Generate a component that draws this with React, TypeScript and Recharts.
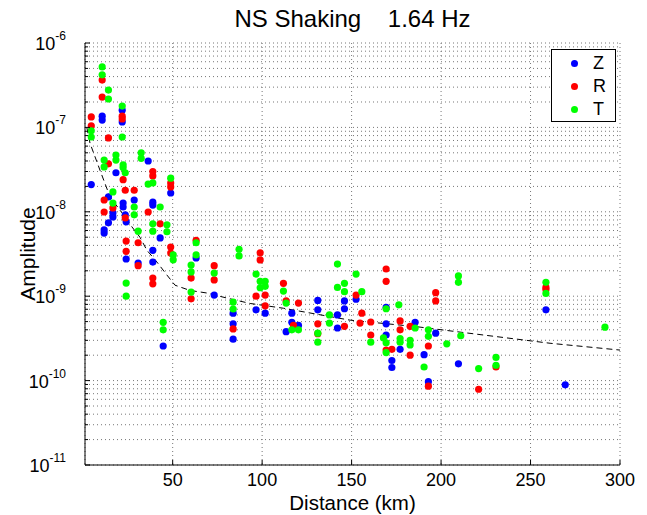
import React from "react";
import { ScatterChart, Scatter, XAxis, YAxis, CartesianGrid, Legend } from "recharts";

const FONT = "'Liberation Sans', Arial, Helvetica, sans-serif";

// distance (km), amplitude
const zPoints: [number, number][] = [
  [4.5, 2.1e-8], [10.6, 1.36e-7], [10.6, 1.22e-7], [11.7, 6.1e-9], [11.7, 5.6e-9],
  [14.1, 1.5e-8], [14.1, 7.4e-9], [16.6, 9.7e-9], [16.6, 8.7e-9], [18.3, 2.9e-8],
  [21.8, 1.6e-7], [21.8, 1.16e-7], [22.3, 1.27e-8], [22.3, 1.14e-8], [23.5, 9.2e-9],
  [24, 7.6e-9], [24, 2.76e-9], [28.5, 1.38e-8], [30.7, 2.47e-9], [36.3, 4.0e-8],
  [38.9, 1.3e-8], [38.9, 1.2e-8], [38.9, 3.5e-9], [38.9, 2.54e-9], [43, 4.9e-9],
  [44.7, 2.57e-10], [48.9, 1.67e-8], [63.1, 2.84e-9], [73.2, 1.03e-9],
  [83.8, 6.3e-10], [83.8, 4.7e-10], [83.8, 3.1e-10], [96.6, 6.9e-10], [101.7, 6.3e-10],
  [113.4, 3.8e-10], [116.6, 6.3e-10], [116.6, 4.9e-10], [120.3, 4.5e-10],
  [131.1, 8.9e-10], [131.1, 6.9e-10], [142.1, 6.0e-10], [142.1, 4.2e-10],
  [146, 8.8e-10], [146, 7.1e-10], [152.5, 9.2e-10], [169.3, 7.4e-10], [169.3, 4.7e-10],
  [169.3, 3.47e-10], [172.5, 1.73e-10], [172.5, 1.43e-10], [177.1, 2.35e-10],
  [185.5, 4.9e-10], [190.5, 2.03e-10], [192.9, 9.7e-11], [197, 3.65e-10],
  [209.7, 1.58e-10], [258.6, 6.9e-10], [269.4, 8.9e-11],
];

const rPoints: [number, number][] = [
  [4.5, 1.33e-7], [4.5, 1.04e-7], [10.6, 3.64e-7], [10.6, 2.29e-7], [11.7, 1.38e-8],
  [11.7, 9.95e-9], [14.1, 7.5e-8], [14.1, 3.7e-8], [16.6, 1.11e-8], [21.8, 1.36e-7],
  [21.8, 1.26e-7], [22.3, 2.4e-8], [23.5, 1.8e-8], [23.5, 8.45e-9], [24, 4.5e-9],
  [24, 3.4e-9], [28.5, 1.8e-8], [30.7, 4.3e-9], [30.7, 2.3e-9], [36.3, 9.95e-9],
  [38.9, 3.0e-8], [38.9, 2.66e-8], [38.9, 1.64e-9], [38.9, 1.4e-9], [43, 7.2e-9],
  [48.9, 2.19e-8], [48.9, 1.97e-8], [48.9, 3.83e-9], [48.9, 3.25e-9],
  [60.3, 1.64e-9], [60.3, 9.3e-10], [63.1, 4.6e-9], [73.2, 2.3e-9], [73.2, 1.56e-9],
  [83.8, 4.1e-10], [96.6, 1.0e-9], [98.9, 3.27e-9], [98.9, 2.69e-9],
  [101.7, 1.03e-9], [101.7, 7.7e-10], [111.9, 1.42e-9], [113.4, 8.8e-10],
  [117.5, 4.5e-10], [120.3, 8.3e-10], [131.1, 4.7e-10], [131.1, 3.6e-10],
  [146, 4.4e-10], [152.5, 1.03e-9], [155.7, 6.3e-10], [154.7, 4.8e-10],
  [160.7, 4.95e-10], [160.7, 3.47e-10], [169.3, 2.1e-9], [169.3, 1.5e-9],
  [169.3, 2.3e-10], [172.5, 2.35e-10], [177.1, 5.1e-10], [177.1, 4.0e-10],
  [182.7, 4.4e-10], [182.7, 2.0e-10], [192.9, 2.57e-10], [192.9, 8.6e-11],
  [197, 1.1e-9], [197, 8.8e-10], [221, 7.9e-11], [230.7, 1.45e-10],
  [258.6, 1.27e-9], [258.6, 1.2e-9],
];

const tPoints: [number, number][] = [
  [4.5, 9.1e-8], [4.5, 7.7e-8], [10.6, 5.2e-7], [10.6, 4.2e-7], [11.7, 4.1e-8],
  [11.7, 3.4e-8], [14.1, 2.77e-7], [14.1, 2.17e-7], [16.6, 1.72e-8], [16.6, 1.27e-8],
  [18.3, 4.7e-8], [18.3, 4.1e-8], [21.8, 1.79e-7], [21.8, 7.7e-8], [22.3, 3.6e-8],
  [22.3, 3.35e-8], [23.5, 2.9e-8], [24, 1.43e-9], [24, 1.0e-9], [28.5, 1.14e-8],
  [28.5, 9.2e-9], [30.7, 5.9e-9], [32.4, 5.0e-8], [32.4, 4.3e-8], [36.3, 2.13e-8],
  [38.9, 2.2e-8], [38.9, 7.2e-9], [38.9, 5.9e-9], [43, 1.14e-8], [44.7, 4.9e-10],
  [44.7, 4.0e-10], [46.8, 7.0e-9], [46.8, 5.8e-9], [48.9, 2.5e-8], [50.3, 3.08e-9],
  [50.3, 2.7e-9], [60.3, 2.34e-9], [60.3, 1.94e-9], [60.3, 1.12e-9], [63.1, 4.3e-9],
  [63.1, 3.08e-9], [73.2, 1.88e-9], [83.8, 8.5e-10], [83.8, 7.05e-10], [87.1, 3.6e-9],
  [87.1, 3.0e-9], [96.6, 1.83e-9], [98.9, 1.5e-9], [98.9, 1.26e-9], [101.7, 1.5e-9],
  [101.7, 1.31e-9], [111.9, 1.15e-9], [113.4, 8.3e-10], [116.6, 4.0e-10],
  [120.3, 4.0e-10], [131.1, 3.65e-10], [131.1, 2.85e-10], [137.6, 6.0e-10],
  [137.6, 4.8e-10], [142.1, 2.4e-9], [142.1, 1.27e-9], [146, 1.42e-9], [146, 1.13e-9],
  [152.5, 1.83e-9], [155.7, 1.13e-9], [160.7, 2.85e-10], [167.8, 3.2e-10],
  [169.3, 7.1e-10], [169.3, 2.8e-10], [169.3, 2.15e-10], [176.4, 7.9e-10],
  [177.1, 3.15e-10], [177.1, 2.85e-10], [182.7, 3.0e-10], [182.7, 2.65e-10],
  [185.5, 4.2e-10], [190.5, 1.45e-10], [192.9, 4.0e-10], [192.9, 3.35e-10],
  [203.2, 2.73e-10], [209.7, 1.74e-9], [209.7, 1.46e-9], [211, 3.4e-10],
  [221, 1.39e-10], [230.7, 1.88e-10], [230.7, 1.52e-10], [258.6, 1.46e-9],
  [258.6, 1.08e-9], [291.6, 4.3e-10],
];

// dashed fit curve
const fitCurve: [number, number][] = [
  [2, 1.0e-7], [3.8, 6.5e-8], [9.4, 3.1e-8], [15, 1.5e-8], [21.7, 9.7e-9],
  [27.3, 6.6e-9], [31.7, 5.0e-9], [35.6, 3.5e-9], [41.2, 2.54e-9], [46.8, 1.78e-9],
  [51.3, 1.35e-9], [59.7, 1.17e-9], [69.2, 1.09e-9], [80.3, 9.5e-10], [93.3, 8.2e-10],
  [111.9, 7.2e-10], [149.2, 5.2e-10], [186.4, 4.35e-10], [223.6, 3.47e-10],
  [260.9, 2.77e-10], [300, 2.3e-10],
];

const distanceTicks = [50, 100, 150, 200, 250, 300];
const decadeTicks = [1e-11, 1e-10, 1e-9, 1e-8, 1e-7, 1e-6];
const minorSteps = [2, 3, 4, 5, 6, 7, 8, 9];
const amplitudeTicks = decadeTicks.flatMap((d, i) =>
  i < decadeTicks.length - 1 ? [d, ...minorSteps.map((m) => m * d)] : [d]
);

const series = [
  { name: "Z", color: "#0000ff", points: zPoints },
  { name: "R", color: "#ff0000", points: rPoints },
  { name: "T", color: "#00ff00", points: tPoints },
];

const toRows = (pts: [number, number][]) => pts.map(([dist, amp]) => ({ dist, amp }));

const isDecade = (v: number) => {
  const l = Math.log10(v);
  return Math.abs(l - Math.round(l)) < 1e-6;
};

const BottomTick = ({ x, y, payload }: any) => (
  <g>
    <line x1={x} y1={y} x2={x} y2={y - 5} stroke="#000" />
    <text x={x} y={y + 21} textAnchor="middle" fontSize={18} fontFamily={FONT} fill="#000">
      {payload.value}
    </text>
  </g>
);

const TopTick = ({ x, y }: any) => <line x1={x} y1={y} x2={x} y2={y + 5} stroke="#000" />;

const LeftTick = ({ x, y, payload }: any) => {
  const v = payload.value;
  const major = isDecade(v);
  const e = Math.round(Math.log10(v));
  return (
    <g>
      <line x1={x} y1={y} x2={x + (major ? 5 : 3)} y2={y} stroke="#000" />
      {major && (
        <text x={x - 19} y={y + 7} textAnchor="end" fontSize={18} fontFamily={FONT} fill="#000">
          10
          <tspan dy={-10} fontSize={12}>{`-${-e}`}</tspan>
        </text>
      )}
    </g>
  );
};

const RightTick = ({ x, y, payload }: any) => (
  <line x1={x} y1={y} x2={x - (isDecade(payload.value) ? 5 : 3)} y2={y} stroke="#000" />
);

const XLabel = ({ viewBox }: any) => (
  <text
    x={viewBox.x + viewBox.width / 2}
    y={viewBox.y + 45}
    textAnchor="middle"
    fontSize={20.5}
    fontFamily={FONT}
    fill="#000"
  >
    Distance (km)
  </text>
);

const YLabel = ({ viewBox }: any) => {
  const cx = 27;
  const cy = viewBox.y + viewBox.height / 2;
  return (
    <text
      x={cx}
      y={cy}
      transform={`rotate(-90 ${cx} ${cy})`}
      textAnchor="middle"
      dominantBaseline="central"
      fontSize={21}
      fontFamily={FONT}
      fill="#000"
    >
      Amplitude
    </text>
  );
};

const LegendBox = () => (
  <div
    style={{
      border: "1px solid #000",
      background: "#fff",
      width: 65,
      height: 73,
      boxSizing: "border-box",
      fontFamily: FONT,
      fontSize: 18,
      paddingTop: 2,
    }}
  >
    {series.map((s) => (
      <div key={s.name} style={{ display: "flex", alignItems: "center", height: 23 }}>
        <span
          style={{
            display: "inline-block",
            width: 7,
            height: 7,
            borderRadius: "50%",
            background: s.color,
            marginLeft: 19,
          }}
        />
        <span style={{ marginLeft: 15, lineHeight: "23px" }}>{s.name}</span>
      </div>
    ))}
  </div>
);

const dot = (color: string) => (props: any) => (
  <circle cx={props.cx} cy={props.cy} r={3.6} fill={color} />
);

export default function App() {
  return (
    <div style={{ position: "absolute", left: 0, top: 0, width: 647, height: 515, background: "#fff" }}>
      <div
        style={{
          position: "absolute",
          left: 85,
          width: 535,
          top: 5,
          textAlign: "center",
          fontFamily: FONT,
          fontSize: 24,
          lineHeight: "28px",
          whiteSpace: "pre",
        }}
      >
        {"NS Shaking    1.64 Hz"}
      </div>
      <ScatterChart width={647} height={515} margin={{ top: 43, right: 27, bottom: 0, left: 0 }}>
        <CartesianGrid stroke="#777" strokeDasharray="1 3" />
        <XAxis
          dataKey="dist"
          type="number"
          domain={[1, 300]}
          ticks={distanceTicks}
          interval={0}
          allowDataOverflow
          height={50}
          tickSize={0}
          tickMargin={0}
          tickLine={false}
          axisLine={{ stroke: "#000" }}
          tick={<BottomTick />}
          label={<XLabel />}
        />
        <XAxis
          xAxisId="top"
          orientation="top"
          type="number"
          domain={[1, 300]}
          ticks={distanceTicks}
          interval={0}
          allowDataOverflow
          height={0}
          tickSize={0}
          tickMargin={0}
          tickLine={false}
          axisLine={{ stroke: "#000" }}
          tick={<TopTick />}
        />
        <YAxis
          dataKey="amp"
          type="number"
          scale="log"
          domain={[1e-11, 1e-6]}
          ticks={amplitudeTicks}
          interval={0}
          allowDataOverflow
          width={85}
          tickSize={0}
          tickMargin={0}
          tickLine={false}
          axisLine={{ stroke: "#000" }}
          tick={<LeftTick />}
          label={<YLabel />}
        />
        <YAxis
          yAxisId="right"
          orientation="right"
          type="number"
          scale="log"
          domain={[1e-11, 1e-6]}
          ticks={amplitudeTicks}
          interval={0}
          allowDataOverflow
          width={0}
          tickSize={0}
          tickMargin={0}
          tickLine={false}
          axisLine={{ stroke: "#000" }}
          tick={<RightTick />}
        />
        <Scatter
          name="fit"
          data={toRows(fitCurve)}
          line={{ stroke: "#000", strokeWidth: 1, strokeDasharray: "6 4" }}
          shape={() => <g />}
          legendType="none"
          isAnimationActive={false}
        />
        {series.map((s) => (
          <Scatter
            key={s.name}
            name={s.name}
            data={toRows(s.points)}
            fill={s.color}
            shape={dot(s.color)}
            isAnimationActive={false}
          />
        ))}
        <Legend
          layout="vertical"
          align="center"
          verticalAlign="middle"
          content={<LegendBox />}
          wrapperStyle={{ position: "absolute", left: 551, top: 49, width: 65, height: 73 }}
        />
      </ScatterChart>
    </div>
  );
}
